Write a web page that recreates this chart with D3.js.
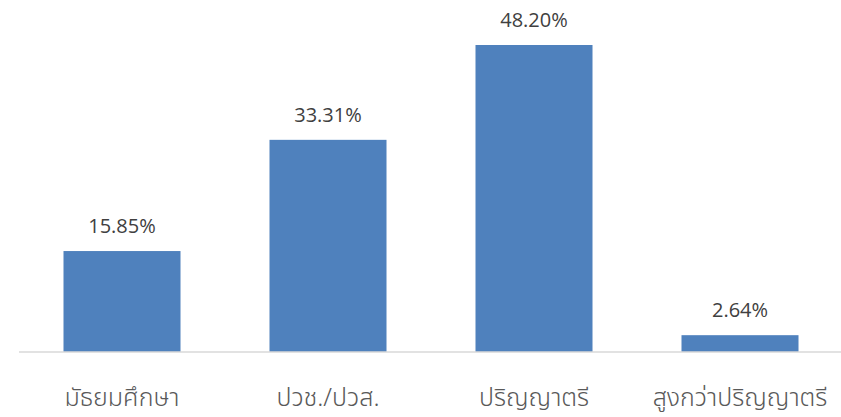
<!DOCTYPE html>
<html>
<head>
<meta charset="utf-8">
<script src="https://cdn.jsdelivr.net/npm/d3@7"></script>
<style>
  body { margin: 0; background: #fff; }
</style>
</head>
<body>
<div class="chart"></div>
<script>
var categories = ["มัธยมศึกษา", "ปวช./ปวส.", "ปริญญาตรี", "สูงกว่าปริญญาตรี"];
var values = [15.85, 33.31, 48.20, 2.64];

var width = 841, height = 417;
var baseY = 352, left = 19;

var svg = d3.select(".chart")
  .append("svg")
    .attr("width", width)
    .attr("height", height);

var x = d3.scaleBand()
  .domain(categories)
  .range([left, left + 824])
  .paddingInner(0.432)
  .paddingOuter(0.216);

var y = d3.scaleLinear()
  .domain([0, 48.2])
  .range([baseY, 45]);

var data = categories.map(function(c, i) { return { cat: c, value: values[i] }; });

// Bars
svg.selectAll(".bar")
  .data(data)
  .enter()
  .append("rect")
  .attr("class", "bar")
  .attr("x", function(d) { return x(d.cat); })
  .attr("y", function(d) { return y(d.value); })
  .attr("width", x.bandwidth())
  .attr("height", function(d) { return baseY - y(d.value); })
  .attr("fill", "#4F81BD");

// Baseline axis
var gX = svg.append("g")
  .attr("transform", "translate(0," + baseY + ")")
  .call(d3.axisBottom(x).tickSize(0).tickPadding(0));

gX.select(".domain")
  .attr("d", "M" + left + ",0H" + width)
  .style("stroke", "#D9D9D9")
  .style("stroke-width", 1.5);

gX.selectAll("text")
  .attr("y", 54)
  .attr("dy", 0)
  .style("font-family", '"Noto Sans Thai", "Noto Sans", "DejaVu Sans", sans-serif')
  .style("font-size", "25px")
  .style("font-weight", "300")
  .style("fill", "#595959");

// Value labels
svg.selectAll(".value-label")
  .data(data)
  .enter()
  .append("text")
  .attr("class", "value-label")
  .attr("x", function(d) { return x(d.cat) + x.bandwidth() / 2; })
  .attr("y", function(d) { return y(d.value) - 18; })
  .style("text-anchor", "middle")
  .style("font-family", '"Open Sans", sans-serif')
  .style("font-size", "20px")
  .style("fill", "#404040")
  .text(function(d) { return d.value.toFixed(2) + "%"; });
</script>
</body>
</html>
